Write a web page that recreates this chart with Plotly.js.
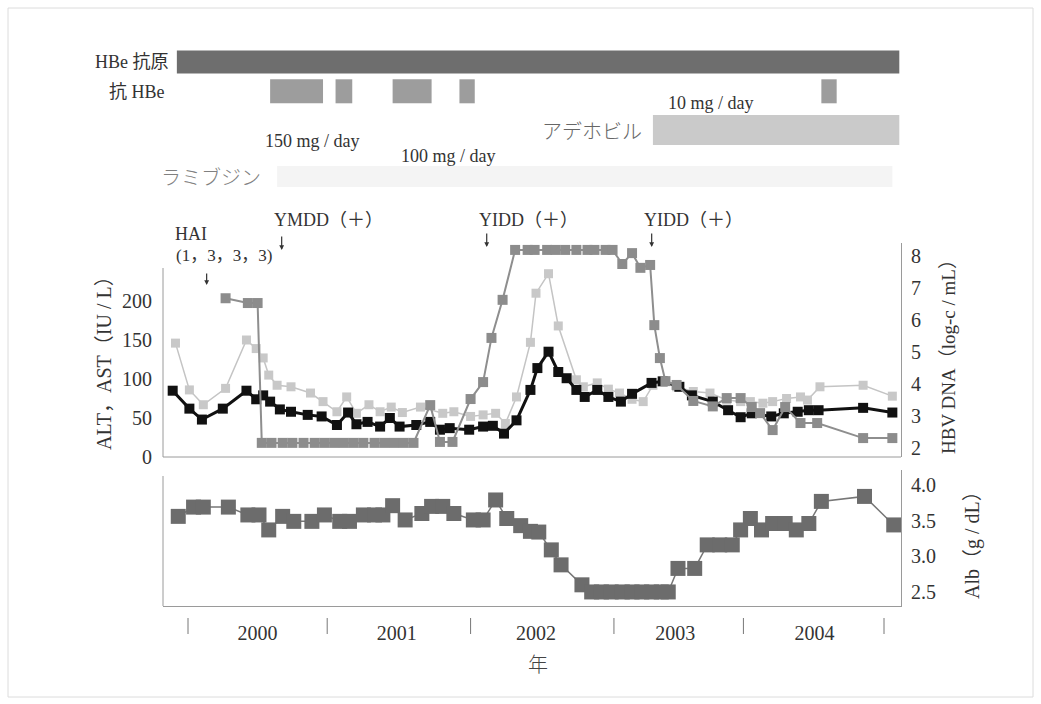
<!DOCTYPE html>
<html>
<head>
<meta charset="utf-8">
<script src="https://cdn.plot.ly/plotly-3.0.1.min.js"></script>
<style>html,body{margin:0;padding:0;background:#fff;}#chart{width:1041px;height:704px;}</style>
</head>
<body>
<div id="chart"></div>
<script>
// ---------------- DATA (decimal years) ----------------
// ALT (black, thick)
const altX = [1999.89,2000.01,2000.10,2000.25,2000.42,2000.49,2000.54,2000.59,2000.66,2000.74,
  2000.86,2000.96,2001.07,2001.15,2001.21,2001.29,2001.38,2001.45,2001.52,2001.64,
  2001.74,2001.81,2001.88,2002.02,2002.12,2002.19,2002.27,2002.36,2002.46,2002.51,
  2002.59,2002.66,2002.72,2002.79,2002.85,2002.94,2003.02,2003.11,2003.19,2003.33,
  2003.41,2003.53,2003.62,2003.77,2003.88,2003.97,2004.05,2004.19,2004.28,2004.38,
  2004.46,2004.53,2004.85,2005.06];
const altY = [85,62,48,62,85,74,79,71,61,58,
  54,52,41,57,42,45,39,50,39,41,
  45,35,37,35,39,40,30,47,86,114,
  135,109,101,86,77,86,77,71,81,95,
  97,90,79,71,60,51,56,52,56,58,
  60,60,63,57];
// AST (light gray)
const astX = [1999.91,2000.01,2000.11,2000.27,2000.42,2000.49,2000.54,2000.58,2000.64,2000.74,
  2000.88,2000.97,2001.07,2001.14,2001.21,2001.30,2001.38,2001.46,2001.54,2001.67,
  2001.83,2001.91,2002.03,2002.12,2002.21,2002.28,2002.36,2002.46,2002.50,2002.59,
  2002.66,2002.79,2002.84,2002.94,2003.02,2003.10,2003.19,2003.27,2003.34,2003.41,
  2003.51,2003.63,2003.75,2003.87,2003.97,2004.04,2004.13,2004.20,2004.30,2004.40,
  2004.45,2004.54,2004.85,2005.06];
const astY = [146,86,67,88,150,139,127,105,92,90,
  82,71,58,77,56,67,58,64,57,64,
  56,58,52,54,56,43,77,147,210,235,
  168,99,90,95,87,82,74,71,92,97,
  90,84,82,73,71,71,69,71,75,77,
  73,90,92,78];
// HBV DNA (log copies/mL)
const dnaX = [2000.27,2000.43,2000.50,
  2000.53,2000.60,2000.68,2000.75,2000.83,2000.91,2000.98,2001.05,2001.12,2001.19,2001.26,2001.34,2001.41,2001.48,2001.55,2001.62,
  2001.74,2001.81,2001.90,
  2002.03,2002.12,2002.18,2002.26,
  2002.35,2002.44,2002.49,2002.58,2002.64,2002.71,2002.79,2002.87,2002.92,2003.00,2003.05,
  2003.12,2003.19,2003.25,2003.32,
  2003.35,2003.39,2003.43,2003.51,
  2003.63,2003.77,2003.87,2003.97,2004.05,2004.11,2004.20,2004.29,2004.40,2004.52,
  2004.85,2005.06];
const dnaY = [6.68,6.53,6.53,
  2.16,2.16,2.16,2.16,2.16,2.16,2.16,2.16,2.16,2.16,2.16,2.16,2.16,2.16,2.16,2.16,
  3.34,2.19,2.19,
  3.53,4.06,5.44,6.63,
  8.19,8.19,8.19,8.19,8.19,8.19,8.19,8.19,8.19,8.19,8.19,
  7.75,8.09,7.63,7.72,
  5.84,4.81,4.09,3.97,
  3.47,3.30,3.56,3.56,3.28,3.09,2.56,3.28,2.78,2.78,
  2.31,2.31];
// Alb (g/dL)
const albX = [1999.93,2000.04,2000.11,2000.29,2000.43,2000.51,2000.58,2000.68,2000.76,2000.89,
  2000.98,2001.09,2001.16,2001.26,2001.34,2001.40,2001.47,2001.56,2001.68,2001.75,
  2001.83,2001.91,2002.05,2002.12,2002.21,2002.29,
  2002.39,2002.46,2002.52,
  2002.61,2002.68,2002.83,
  2002.90,2002.97,2003.04,2003.12,2003.19,2003.26,2003.33,2003.40,2003.45,
  2003.52,2003.64,2003.73,2003.82,2003.91,2003.97,2004.04,2004.12,2004.20,2004.29,
  2004.37,2004.46,2004.55,2004.86,2005.07];
const albY = [3.56,3.69,3.69,3.69,3.58,3.58,3.37,3.56,3.49,3.49,
  3.58,3.49,3.49,3.58,3.58,3.58,3.71,3.51,3.60,3.70,
  3.70,3.60,3.51,3.51,3.79,3.53,
  3.43,3.35,3.34,
  3.09,2.88,2.60,
  2.50,2.50,2.50,2.50,2.50,2.50,2.50,2.50,2.50,
  2.83,2.83,3.16,3.16,3.16,3.37,3.53,3.37,3.46,3.46,
  3.37,3.46,3.77,3.84,3.44];

// Period bars (start / end, decimal years)
const hbeagStart = [1999.92], hbeagEnd = [2005.11];
const antiHbeStart = [2000.59,2001.06,2001.47,2001.95,2004.55];
const antiHbeEnd   = [2000.97,2001.18,2001.75,2002.06,2004.66];
const advStart = [2003.34], advEnd = [2005.11];
const lamStart = [2000.64], lamEnd = [2005.06];

// Event markers
const hai = {x: 2000.134, label: 'HAI', sub: '(1，3，3，3)'};
const eventX = [2000.673, 2002.146, 2003.331];
const eventLabels = ['YMDD（＋）', 'YIDD（＋）', 'YIDD（＋）'];

// Ticks
const yearTickVals = [2000.5,2001.5,2002.5,2003.5,2004.5];
const yearLabels = ['2000','2001','2002','2003','2004'];
const yearBounds = [2000.00,2001.00,2002.03,2003.06,2003.99,2005.00];
const altTicks = [0,50,100,150,200];
const dnaTicks = [2,3,4,5,6,7,8];
const albTicks = [2.5,3.0,3.5,4.0];
const albTickLabels = ['2.5','3.0','3.5','4.0'];

// ---------------- LAYOUT HELPERS ----------------
const W = 1041, H = 704;
const PX = v => v / W;
const PY = v => 1 - v / H;
const SERIF = 'Liberation Serif, Times New Roman, Noto Sans CJK JP, serif';
const TXT = '#333';

// lanes of the top band (axis units = pixels from top)
const LANE = {hbeag: 62, anti: 91.3, adv: 130, lam: 176.5};
const dur = (s, e) => s.map((v, i) => e[i] - v);

function barTrace(starts, ends, lane, thick, color) {
  return {
    type: 'bar', orientation: 'h', xaxis: 'x', yaxis: 'y4',
    base: starts, x: dur(starts, ends), y: starts.map(() => lane),
    width: starts.map(() => thick),
    marker: {color: color, line: {width: 0}},
    hoverinfo: 'skip', showlegend: false
  };
}

const traces = [
  barTrace(hbeagStart, hbeagEnd, LANE.hbeag, 23, '#6e6e6e'),
  barTrace(antiHbeStart, antiHbeEnd, LANE.anti, 24, '#9d9d9d'),
  barTrace(advStart, advEnd, LANE.adv, 30, '#cacaca'),
  barTrace(lamStart, lamEnd, LANE.lam, 21, '#f4f4f4'),
  {type: 'scatter', mode: 'lines+markers', x: astX, y: astY, xaxis: 'x', yaxis: 'y',
   line: {color: '#c4c4c4', width: 1.5}, marker: {symbol: 'square', size: 9, color: '#c8c8c8'},
   showlegend: false, hoverinfo: 'skip'},
  {type: 'scatter', mode: 'lines+markers', x: altX, y: altY, xaxis: 'x', yaxis: 'y',
   line: {color: '#111', width: 3}, marker: {symbol: 'square', size: 10, color: '#111'},
   showlegend: false, hoverinfo: 'skip'},
  {type: 'scatter', mode: 'lines+markers', x: dnaX, y: dnaY, xaxis: 'x', yaxis: 'y2',
   line: {color: '#8e8e8e', width: 2}, marker: {symbol: 'square', size: 10, color: '#8c8c8c'},
   showlegend: false, hoverinfo: 'skip'},
  {type: 'scatter', mode: 'lines+markers', x: albX, y: albY, xaxis: 'x', yaxis: 'y3',
   line: {color: '#777', width: 1.5}, marker: {symbol: 'square', size: 15, color: '#6c6c6c'},
   showlegend: false, hoverinfo: 'skip'}
];

const xL = 163, xR = 901;
const PXY = 139.2, X0PX = 188; // px per year, px of 2000.0
const xRange = [2000 + (xL - X0PX) / PXY, 2000 + (xR - X0PX) / PXY];

const annotations = [];
function addText(text, x, y, xanchor, size, color, extra) {
  annotations.push(Object.assign({text: text, x: PX(x), y: PY(y), xref: 'paper', yref: 'paper',
    xanchor: xanchor, yanchor: 'middle', showarrow: false,
    font: {family: SERIF, size: size, color: color}}, extra || {}));
}
const CJK = 'Noto Sans CJK JP';
// top band labels
addText('HBe 抗原', 171, 62, 'right', 18, TXT);
addText('抗 HBe', 167, 92, 'right', 18, TXT);
addText('150 mg / day', 312, 141, 'center', 18, TXT);
addText('100 mg / day', 448, 156, 'center', 18, TXT);
addText('10 mg / day', 711, 103, 'center', 18, TXT);
addText('アデホビル', 644, 131, 'right', 20, '#666', {font: {family: CJK, size: 20, color: '#666', weight: 300}});
addText('ラミブジン', 263, 176, 'right', 20, '#808080', {font: {family: CJK, size: 20, color: '#808080', weight: 300}});
// HAI
addText(hai.label, 173, 234, 'left', 18, TXT);
addText(hai.sub, 174, 255, 'left', 17, TXT);
annotations.push({x: hai.x, y: PY(285), xref: 'x', yref: 'paper', text: '', showarrow: true,
  ax: 0, ay: -13, arrowhead: 2, arrowsize: 0.8, arrowwidth: 1.2, arrowcolor: '#333'});
// events
const evTip = [250, 247, 247];
eventX.forEach((ex, i) => {
  annotations.push({x: ex, y: PY(220), xref: 'x', yref: 'paper', text: eventLabels[i],
    showarrow: false, xanchor: 'left', yanchor: 'middle', xshift: -10,
    font: {family: SERIF, size: 18, color: TXT}});
  annotations.push({x: ex, y: PY(evTip[i]), xref: 'x', yref: 'paper', text: '', showarrow: true,
    ax: 0, ay: -15, arrowhead: 2, arrowsize: 0.8, arrowwidth: 1.2, arrowcolor: '#333'});
});
// axis titles
addText('ALT，AST（IU / L）', 104, 358, 'center', 20, TXT, {textangle: -90});
addText('HBV DNA（log-c / mL）', 948, 352, 'center', 19, TXT, {textangle: -90});
addText('Alb（g / dL）', 972, 540, 'center', 20, TXT, {textangle: -90});
addText('年', 538, 663, 'center', 20, TXT, {font: {family: CJK, size: 20, color: '#444', weight: 300}});

const shapes = [];
const lineC = '#9a9a9a';
function pline(x0, y0, x1, y1, color, width) {
  shapes.push({type: 'line', xref: 'paper', yref: 'paper', x0: PX(x0), y0: PY(y0), x1: PX(x1), y1: PY(y1),
    line: {color: color || lineC, width: width || 1}});
}
// page frame
shapes.push({type: 'rect', xref: 'paper', yref: 'paper', x0: PX(8), y0: PY(697), x1: PX(1033), y1: PY(8),
  line: {color: '#dcdcdc', width: 1}});
// main plot frame
pline(xL, 457, xR, 457);
pline(xL, 457, xL, 268);
// lower plot left line
pline(xL, 606, xL, 476);
// year boundary marks
yearBounds.forEach(b => {
  shapes.push({type: 'line', xref: 'x', yref: 'paper', x0: b, x1: b, y0: PY(634), y1: PY(618),
    line: {color: '#777', width: 1}});
});

const layout = {
  width: W, height: H,
  margin: {l: 0, r: 0, t: 0, b: 0},
  paper_bgcolor: '#fff', plot_bgcolor: 'rgba(0,0,0,0)',
  showlegend: false, barmode: 'overlay',
  font: {family: SERIF, color: TXT},
  xaxis: {domain: [PX(xL), PX(xR)], range: xRange, anchor: 'y3',
    showgrid: false, zeroline: false, showline: true, linecolor: lineC, linewidth: 1,
    tickmode: 'array', tickvals: yearTickVals, ticktext: yearLabels,
    ticks: 'outside', ticklen: 9, tickcolor: 'rgba(0,0,0,0)',
    tickfont: {family: SERIF, size: 20, color: TXT}, fixedrange: true},
  yaxis: {domain: [PY(457), PY(243)], range: [0, (457 - 243) / 0.78], anchor: 'x',
    showgrid: false, zeroline: false, showline: false,
    tickmode: 'array', tickvals: altTicks,
    ticks: 'outside', ticklen: 6, tickcolor: 'rgba(0,0,0,0)',
    tickfont: {family: SERIF, size: 20, color: TXT}},
  yaxis2: {domain: [PY(457), PY(243)], overlaying: 'y', side: 'right', anchor: 'x',
    range: [2 - (457 - 448) / 32, 2 + (448 - 243) / 32],
    showgrid: false, zeroline: false, showline: true, linecolor: lineC, linewidth: 1,
    tickmode: 'array', tickvals: dnaTicks,
    ticks: 'outside', ticklen: 5, tickcolor: 'rgba(0,0,0,0)',
    tickfont: {family: SERIF, size: 20, color: TXT}},
  yaxis3: {domain: [PY(606), PY(470)], side: 'right', anchor: 'x',
    range: [4.0 - (606 - 485) / 71.3, 4.0 + (485 - 470) / 71.3],
    showgrid: false, zeroline: false, showline: true, linecolor: lineC, linewidth: 1,
    tickmode: 'array', tickvals: albTicks, ticktext: albTickLabels,
    ticks: 'outside', ticklen: 5, tickcolor: 'rgba(0,0,0,0)',
    tickfont: {family: SERIF, size: 20, color: TXT}},
  yaxis4: {domain: [PY(190), PY(40)], range: [190, 40], anchor: 'x',
    showgrid: false, zeroline: false, showline: false, showticklabels: false, ticks: ''},
  annotations: annotations,
  shapes: shapes
};

Plotly.newPlot('chart', traces, layout, {staticPlot: true, displayModeBar: false});
</script>
</body>
</html>
